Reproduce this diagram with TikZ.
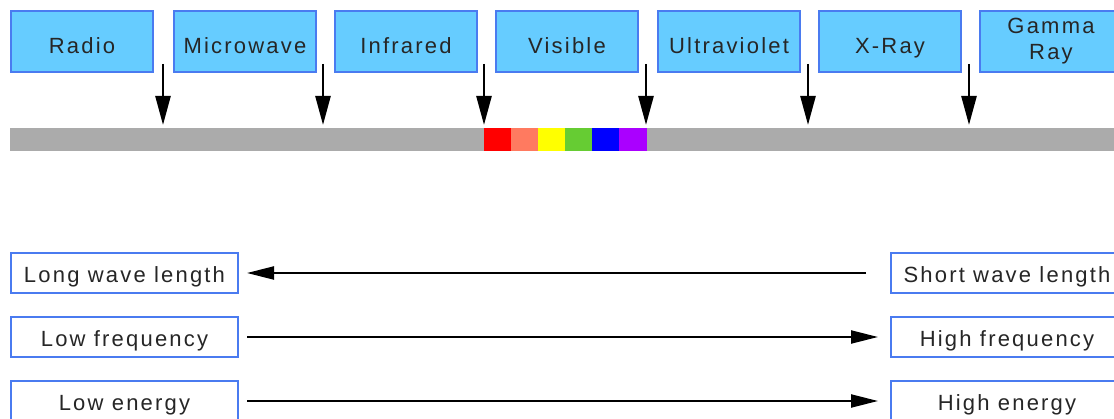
\documentclass[tikz,border=0pt]{standalone}
\usepackage{fontspec}
\setmainfont{Liberation Sans}[LetterSpace=10]
\usetikzlibrary{arrows.meta}
\definecolor{boxfill}{HTML}{66CCFF}
\definecolor{boxline}{HTML}{4A7BF0}
\definecolor{barcol}{HTML}{ABABAB}
\definecolor{cred}{HTML}{FF0000}
\definecolor{csalmon}{HTML}{FF7A60}
\definecolor{cyellow}{HTML}{FFFF00}
\definecolor{cgreen}{HTML}{66CC33}
\definecolor{cblue}{HTML}{0000FF}
\definecolor{cpurple}{HTML}{AA00FF}
\tikzset{
  band/.style={draw=boxline, line width=2pt, fill=boxfill, minimum width=142pt,
    minimum height=61pt, anchor=north west, inner sep=0pt, align=center,
    font=\fontsize{22}{26}\selectfont, text=black!85},
  single/.style={text height=25pt, text depth=0pt},
  prop/.style={draw=boxline, line width=2pt, fill=white, minimum height=40pt,
    anchor=north west, inner sep=0pt, font=\fontsize{22}{26}\selectfont, text=black!85,
    text height=20pt, text depth=0pt},
  pointer/.style={draw=black, line width=2.5pt, -{Triangle[length=29pt,width=15pt]}},
  flow/.style={draw=black, line width=2.2pt, -{Triangle[length=27pt,width=13pt]}},
  seg/.style={anchor=north west, minimum height=23pt, minimum width=27.5pt, inner sep=0pt, draw=none},
}
\begin{document}
\begin{tikzpicture}[x=1pt,y=-1pt]
\useasboundingbox (0,0) rectangle (1114,419);
% band boxes
\node[band, single] (radio) at (10,10) {Radio};
\node[band, single] (micro) at (173,10) {Microwave};
\node[band, single] (infra) at (334,10) {Infrared};
\node[band, single] (vis)   at (495,10) {Visible};
\node[band, single] (uv)    at (657,10) {Ultraviolet};
\node[band, single] (xray)  at (818,10) {X-Ray};
\node[band] (gamma) at (979,10) {Gamma\\Ray};
% spectrum bar
\node[anchor=north west, minimum width=1110pt, minimum height=23pt, inner sep=0pt,
  fill=barcol, draw=none] (bar) at (10,128) {};
\node[seg, fill=cred]    (s1) at (484,128) {};
\node[seg, fill=csalmon] (s2) at (510.5,128) {};
\node[seg, fill=cyellow] (s3) at (537.5,128) {};
\node[seg, fill=cgreen]  (s4) at (564.5,128) {};
\node[seg, fill=cblue]   (s5) at (591.5,128) {};
\node[seg, fill=cpurple] (s6) at (619,128) {};
% boundary arrows
\foreach \i/\x in {1/163,2/323,3/484,4/646,5/808,6/969}{
  \coordinate (t\i) at (\x,64);
  \coordinate (b\i) at (\x,125);
  \draw[pointer] (t\i) -- (b\i);
}
% property boxes
\node[prop, minimum width=227pt] (lwl) at (10,252) {Long wave length};
\node[prop, minimum width=227pt] (lf)  at (10,316) {Low frequency};
\node[prop, minimum width=227pt] (le)  at (10,380) {Low energy};
\node[prop, minimum width=232pt] (swl) at (890,252) {Short wave length};
\node[prop, minimum width=232pt] (hf)  at (890,316) {High frequency};
\node[prop, minimum width=232pt] (he)  at (890,380) {High energy};
% direction arrows
\draw[flow, shorten <=24pt, shorten >=8pt] (swl.west) -- (lwl.east);
\draw[flow, shorten <=8pt, shorten >=12pt] (lf.east) -- (hf.west);
\draw[flow, shorten <=8pt, shorten >=12pt] (le.east) -- (he.west);
\end{tikzpicture}
\end{document}
